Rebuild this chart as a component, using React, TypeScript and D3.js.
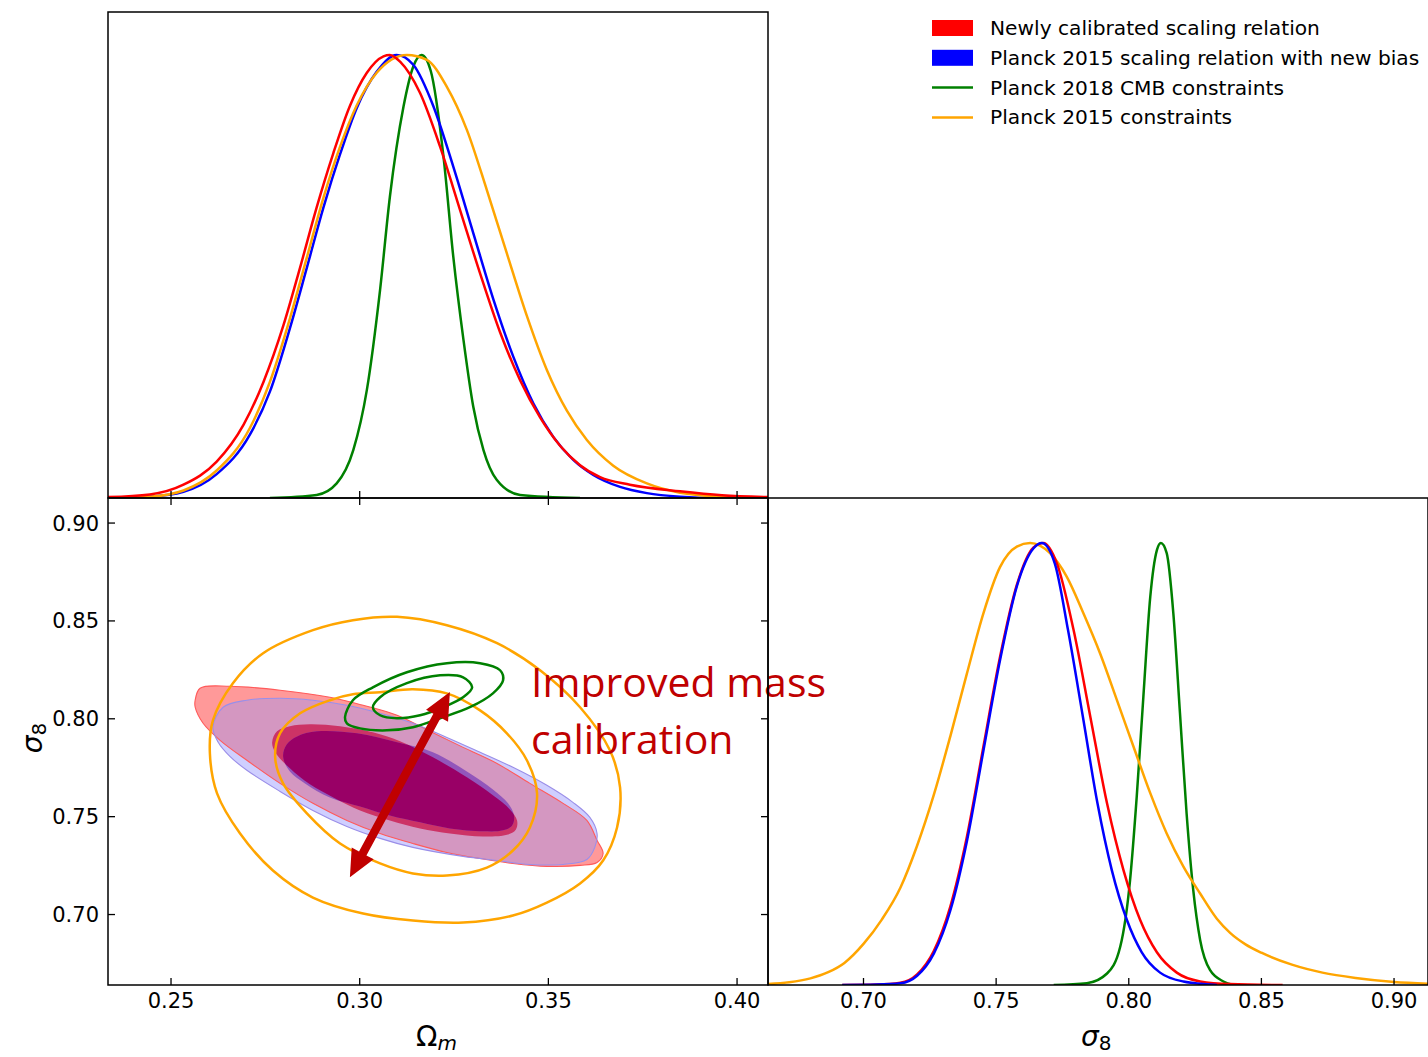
import React from 'react';
import * as d3 from 'd3';

// ── Layout (px) ──────────────────────────────────────────────────────────────
const W = 1428, H = 1057;
const X0 = 108, X1 = 768, X2 = 1428;   // panel columns
const Y0 = 12, Y1 = 498, Y2 = 985;     // panel rows
const TICK = 7;

// ── Axes ─────────────────────────────────────────────────────────────────────
const OMEGA_DOMAIN: [number, number] = [0.2333, 0.4082];
const SIGMA_DOMAIN: [number, number] = [0.664, 0.9128];
const OMEGA_TICKS = [0.25, 0.30, 0.35, 0.40];
const SIGMA_TICKS = [0.70, 0.75, 0.80, 0.85, 0.90];

type P = [number, number];

const COLORS = { red: '#ff0000', blue: '#0000ff', green: '#008000', orange: '#ffa500' };

// ── 1D marginals: Ω_m  [value, normalised density] ──────────────────────────
const omRed: P[] = [
  [0.2333, 0.002], [0.2444, 0.008], [0.2533, 0.030], [0.2621, 0.082], [0.2692, 0.165],
  [0.2745, 0.262], [0.2798, 0.390], [0.2842, 0.520], [0.2886, 0.656], [0.2930, 0.778],
  [0.2974, 0.885], [0.3019, 0.960], [0.3063, 0.997], [0.3080, 1.0], [0.3107, 0.985],
  [0.3160, 0.914], [0.3213, 0.793], [0.3266, 0.650], [0.3319, 0.507], [0.3372, 0.374],
  [0.3425, 0.266], [0.3478, 0.182], [0.3531, 0.118], [0.3584, 0.074], [0.3637, 0.047],
  [0.3716, 0.030], [0.3849, 0.015], [0.3960, 0.006], [0.4082, 0.002],
];
const omBlue: P[] = [
  [0.2333, 0.0], [0.2444, 0.003], [0.2533, 0.014], [0.2621, 0.054], [0.2709, 0.143],
  [0.2762, 0.240], [0.2815, 0.383], [0.2860, 0.520], [0.2904, 0.656], [0.2948, 0.776],
  [0.2992, 0.880], [0.3045, 0.962], [0.3098, 1.0], [0.3142, 0.978], [0.3195, 0.885],
  [0.3248, 0.748], [0.3301, 0.598], [0.3354, 0.449], [0.3407, 0.319], [0.3460, 0.214],
  [0.3513, 0.138], [0.3566, 0.086], [0.3619, 0.052], [0.3690, 0.025], [0.3761, 0.011],
  [0.3849, 0.003], [0.3950, 0.0], [0.4082, 0.0],
];
const omGreen: P[] = [
  [0.2762, 0.0], [0.2886, 0.007], [0.2939, 0.033], [0.2983, 0.108], [0.3019, 0.244],
  [0.3054, 0.470], [0.3080, 0.680], [0.3116, 0.883], [0.3142, 0.974], [0.3164, 1.0],
  [0.3188, 0.965], [0.3222, 0.771], [0.3248, 0.545], [0.3275, 0.357], [0.3301, 0.206],
  [0.3328, 0.108], [0.3363, 0.041], [0.3425, 0.007], [0.3584, 0.0],
];
const omOrange: P[] = [
  [0.2333, 0.0], [0.2444, 0.003], [0.2533, 0.017], [0.2621, 0.062], [0.2709, 0.158],
  [0.2762, 0.262], [0.2815, 0.405], [0.2860, 0.543], [0.2904, 0.678], [0.2948, 0.793],
  [0.2992, 0.886], [0.3045, 0.960], [0.3125, 1.0], [0.3178, 0.989], [0.3231, 0.928],
  [0.3284, 0.831], [0.3337, 0.695], [0.3390, 0.552], [0.3443, 0.411], [0.3496, 0.289],
  [0.3549, 0.197], [0.3602, 0.131], [0.3672, 0.073], [0.3761, 0.033], [0.3849, 0.012],
  [0.3960, 0.003], [0.4082, 0.0],
];

// ── 1D marginals: σ8 ─────────────────────────────────────────────────────────
const s8Red: P[] = [
  [0.692, 0.0], [0.705, 0.001], [0.7139, 0.005], [0.7202, 0.024], [0.7265, 0.077],
  [0.7327, 0.177], [0.7390, 0.336], [0.7452, 0.539], [0.7515, 0.743], [0.7578, 0.905],
  [0.7641, 0.990], [0.7678, 1.0], [0.7729, 0.954], [0.7792, 0.803], [0.7855, 0.607],
  [0.7918, 0.411], [0.7980, 0.260], [0.8043, 0.147], [0.8106, 0.074], [0.8181, 0.028],
  [0.8269, 0.008], [0.8382, 0.002], [0.858, 0.0],
];
const s8Blue: P[] = [
  [0.692, 0.0], [0.705, 0.001], [0.7139, 0.004], [0.7202, 0.021], [0.7265, 0.071],
  [0.7327, 0.168], [0.7390, 0.326], [0.7452, 0.530], [0.7515, 0.736], [0.7578, 0.902],
  [0.7641, 0.988], [0.7672, 1.0], [0.7721, 0.954], [0.7771, 0.803], [0.7827, 0.607],
  [0.7882, 0.411], [0.7936, 0.260], [0.7993, 0.147], [0.8049, 0.074], [0.8118, 0.028],
  [0.8206, 0.008], [0.8332, 0.0],
];
const s8Green: P[] = [
  [0.7717, 0.0], [0.7842, 0.004], [0.7918, 0.026], [0.7968, 0.087], [0.8005, 0.238],
  [0.8030, 0.426], [0.8055, 0.652], [0.8081, 0.878], [0.8106, 0.984], [0.8121, 1.0],
  [0.8143, 0.977], [0.8168, 0.841], [0.8193, 0.615], [0.8218, 0.388], [0.8243, 0.215],
  [0.8269, 0.102], [0.8306, 0.034], [0.8357, 0.008], [0.8394, 0.0],
];
const s8Orange: P[] = [
  [0.664, 0.002], [0.672, 0.006], [0.680, 0.015], [0.6867, 0.029], [0.6928, 0.050],
  [0.7000, 0.093], [0.7069, 0.148], [0.7139, 0.220], [0.7202, 0.315], [0.7265, 0.430],
  [0.7327, 0.562], [0.7390, 0.705], [0.7452, 0.841], [0.7515, 0.946], [0.7578, 0.992],
  [0.7628, 1.0], [0.7703, 0.977], [0.7766, 0.924], [0.7829, 0.841], [0.7892, 0.750],
  [0.7955, 0.645], [0.8018, 0.539], [0.8081, 0.434], [0.8143, 0.343], [0.8206, 0.268],
  [0.8269, 0.207], [0.8332, 0.150], [0.8382, 0.118], [0.8440, 0.092], [0.8500, 0.073],
  [0.8615, 0.046], [0.8730, 0.028], [0.8855, 0.016], [0.9000, 0.007], [0.9128, 0.003],
];

// ── 2D contours [Ω_m, σ8] ────────────────────────────────────────────────────
const redOuter: P[] = [
  [0.2564, 0.8095], [0.2577, 0.8156], [0.2656, 0.8166], [0.2789, 0.8146], [0.2921, 0.8110],
  [0.3009, 0.8069], [0.3099, 0.8018], [0.3186, 0.7936], [0.3274, 0.7854], [0.3364, 0.7772],
  [0.3451, 0.7670], [0.3539, 0.7568], [0.3602, 0.7481], [0.3629, 0.7379], [0.3645, 0.7312],
  [0.3629, 0.7266], [0.3584, 0.7251], [0.3496, 0.7246], [0.3406, 0.7261], [0.3319, 0.7286],
  [0.3231, 0.7317], [0.3141, 0.7363], [0.3054, 0.7414], [0.2966, 0.7481], [0.2876, 0.7568],
  [0.2789, 0.7670], [0.2701, 0.7788], [0.2630, 0.7890], [0.2585, 0.7977], [0.2564, 0.8059],
];
const blueOuter: P[] = [
  [0.2611, 0.7957], [0.2638, 0.8059], [0.2701, 0.8095], [0.2789, 0.8105], [0.2876, 0.8095],
  [0.2966, 0.8069], [0.3054, 0.8028], [0.3141, 0.7977], [0.3231, 0.7905], [0.3319, 0.7829],
  [0.3406, 0.7752], [0.3496, 0.7660], [0.3565, 0.7573], [0.3610, 0.7496], [0.3629, 0.7414],
  [0.3623, 0.7343], [0.3602, 0.7281], [0.3539, 0.7256], [0.3451, 0.7256], [0.3364, 0.7276],
  [0.3274, 0.7297], [0.3141, 0.7343], [0.3054, 0.7389], [0.2966, 0.7450], [0.2876, 0.7532],
  [0.2789, 0.7629], [0.2701, 0.7737], [0.2656, 0.7808], [0.2625, 0.7880],
];
const redInner: P[] = [
  [0.2768, 0.7880], [0.2781, 0.7936], [0.2815, 0.7962], [0.2868, 0.7972], [0.2948, 0.7962],
  [0.3035, 0.7931], [0.3107, 0.7885], [0.3194, 0.7803], [0.3284, 0.7701], [0.3353, 0.7609],
  [0.3398, 0.7537], [0.3417, 0.7481], [0.3414, 0.7435], [0.3393, 0.7409], [0.3327, 0.7399],
  [0.3239, 0.7414], [0.3160, 0.7440], [0.3080, 0.7481], [0.3001, 0.7532], [0.2935, 0.7593],
  [0.2868, 0.7665], [0.2815, 0.7747], [0.2776, 0.7829],
];
const blueInner: P[] = [
  [0.2797, 0.7808], [0.2807, 0.7870], [0.2834, 0.7910], [0.2887, 0.7936], [0.2993, 0.7926],
  [0.3099, 0.7880], [0.3194, 0.7829], [0.3284, 0.7731], [0.3353, 0.7639], [0.3393, 0.7568],
  [0.3409, 0.7506], [0.3404, 0.7455], [0.3380, 0.7430], [0.3327, 0.7425], [0.3239, 0.7440],
  [0.3160, 0.7471], [0.3080, 0.7506], [0.3001, 0.7552], [0.2921, 0.7598], [0.2855, 0.7670],
  [0.2815, 0.7731],
];
const orangeOuter: P[] = [
  [0.3099, 0.8521], [0.3231, 0.8478], [0.3364, 0.8386], [0.3478, 0.8248], [0.3584, 0.8059],
  [0.3663, 0.7839], [0.3690, 0.7650], [0.3682, 0.7445], [0.3645, 0.7276], [0.3584, 0.7159],
  [0.3496, 0.7061], [0.3406, 0.6995], [0.3274, 0.6959], [0.3141, 0.6969], [0.3009, 0.7005],
  [0.2876, 0.7087], [0.2770, 0.7225], [0.2683, 0.7414], [0.2622, 0.7619], [0.2603, 0.7824],
  [0.2611, 0.7992], [0.2664, 0.8182], [0.2744, 0.8335], [0.2876, 0.8453], [0.2982, 0.8504],
];
const orangeInner: P[] = [
  [0.3054, 0.8136], [0.3141, 0.8151], [0.3231, 0.8130], [0.3319, 0.8043], [0.3390, 0.7926],
  [0.3443, 0.7788], [0.3470, 0.7619], [0.3451, 0.7445], [0.3406, 0.7327], [0.3337, 0.7240],
  [0.3231, 0.7199], [0.3141, 0.7210], [0.3054, 0.7261], [0.2948, 0.7363], [0.2860, 0.7517],
  [0.2797, 0.7670], [0.2776, 0.7803], [0.2789, 0.7926], [0.2842, 0.8028], [0.2921, 0.8095],
  [0.2982, 0.8125],
];
const greenOuter: P[] = [
  [0.2961, 0.8008], [0.2982, 0.8095], [0.3035, 0.8161], [0.3125, 0.8238], [0.3231, 0.8284],
  [0.3319, 0.8284], [0.3372, 0.8248], [0.3380, 0.8197], [0.3353, 0.8130], [0.3292, 0.8059],
  [0.3213, 0.8003], [0.3141, 0.7957], [0.3072, 0.7941], [0.3001, 0.7951], [0.2966, 0.7977],
];
const greenInner: P[] = [
  [0.3035, 0.8059], [0.3054, 0.8110], [0.3125, 0.8182], [0.3213, 0.8222], [0.3274, 0.8212],
  [0.3298, 0.8161], [0.3274, 0.8110], [0.3221, 0.8059], [0.3160, 0.8018], [0.3099, 0.8003],
  [0.3054, 0.8018],
];

// annotation arrow ends [Ω_m, σ8]
const ARROW_FROM: P = [0.2974, 0.7191];
const ARROW_TO: P = [0.3239, 0.8137];
const NOTE_LINES = ['Improved mass', 'calibration'];

const LEGEND = [
  { label: 'Newly calibrated scaling relation', color: COLORS.red, kind: 'patch' },
  { label: 'Planck 2015 scaling relation with new bias', color: COLORS.blue, kind: 'patch' },
  { label: 'Planck 2018 CMB constraints', color: COLORS.green, kind: 'line' },
  { label: 'Planck 2015 constraints', color: COLORS.orange, kind: 'line' },
];

const FONT = 'DejaVu Sans, sans-serif';
const fmt = d3.format('.2f');

export default function App() {
  const xOm = d3.scaleLinear().domain(OMEGA_DOMAIN).range([X0, X1]);
  const yS8 = d3.scaleLinear().domain(SIGMA_DOMAIN).range([Y2, Y1]);
  const xS8 = d3.scaleLinear().domain(SIGMA_DOMAIN).range([X1, X2]);
  const yTop = d3.scaleLinear().domain([0, 1.097]).range([Y1, Y0]);
  const yBR = d3.scaleLinear().domain([0, 1.1018]).range([Y2, Y1]);

  const lineTop = d3.line<P>().x(d => xOm(d[0])).y(d => yTop(d[1])).curve(d3.curveMonotoneX);
  const lineBR = d3.line<P>().x(d => xS8(d[0])).y(d => yBR(d[1])).curve(d3.curveMonotoneX);
  const contour = d3.line<P>().x(d => xOm(d[0])).y(d => yS8(d[1])).curve(d3.curveCatmullRomClosed.alpha(0.5));

  // double-headed arrow polygon in px
  const ax = xOm(ARROW_FROM[0]), ay = yS8(ARROW_FROM[1]);
  const bx = xOm(ARROW_TO[0]), by = yS8(ARROW_TO[1]);
  const len = Math.hypot(bx - ax, by - ay);
  const ux = (bx - ax) / len, uy = (by - ay) / len;
  const nx = -uy, ny = ux;
  const hl = 27, hw = 12.5, sw = 4.2;
  const pt = (x: number, y: number, s: number, t: number) => `${x + ux * s + nx * t},${y + uy * s + ny * t}`;
  const arrowPts = [
    pt(ax, ay, 0, 0), pt(ax, ay, hl, hw), pt(ax, ay, hl, sw),
    pt(bx, by, -hl, sw), pt(bx, by, -hl, hw), pt(bx, by, 0, 0),
    pt(bx, by, -hl, -hw), pt(bx, by, -hl, -sw), pt(ax, ay, hl, -sw), pt(ax, ay, hl, -hw),
  ].join(' ');

  const curveProps = { fill: 'none', strokeWidth: 2.5, strokeLinejoin: 'round' as const };

  return (
    <svg width={W} height={H} style={{ position: 'absolute', left: 0, top: 0, background: '#fff' }}
      fontFamily={FONT}>
      <defs>
        <clipPath id="clipTop"><rect x={X0} y={Y0} width={X1 - X0} height={Y1 - Y0} /></clipPath>
        <clipPath id="clipBR"><rect x={X1} y={Y1} width={X2 - X1} height={Y2 - Y1} /></clipPath>
        <clipPath id="clip2D"><rect x={X0} y={Y1} width={X1 - X0} height={Y2 - Y1} /></clipPath>
        <clipPath id="clipRedOuter"><path d={contour(redOuter) ?? ''} /></clipPath>
        <clipPath id="clipRedInner"><path d={contour(redInner) ?? ''} /></clipPath>
      </defs>

      {/* ── top: Ω_m marginal ── */}
      <g clipPath="url(#clipTop)">
        <path d={lineTop(omGreen) ?? ''} stroke={COLORS.green} {...curveProps} />
        <path d={lineTop(omBlue) ?? ''} stroke={COLORS.blue} {...curveProps} />
        <path d={lineTop(omOrange) ?? ''} stroke={COLORS.orange} {...curveProps} />
        <path d={lineTop(omRed) ?? ''} stroke={COLORS.red} {...curveProps} />
      </g>

      {/* ── bottom-right: σ8 marginal ── */}
      <g clipPath="url(#clipBR)">
        <path d={lineBR(s8Green) ?? ''} stroke={COLORS.green} {...curveProps} />
        <path d={lineBR(s8Orange) ?? ''} stroke={COLORS.orange} {...curveProps} />
        <path d={lineBR(s8Red) ?? ''} stroke={COLORS.red} {...curveProps} />
        <path d={lineBR(s8Blue) ?? ''} stroke={COLORS.blue} {...curveProps} />
      </g>

      {/* ── 2D: filled contours ── */}
      <g clipPath="url(#clip2D)">
        <path d={contour(redOuter) ?? ''} fill="#ff9999" />
        <path d={contour(blueOuter) ?? ''} fill="#cfcfff" />
        <path d={contour(blueOuter) ?? ''} fill="#d497c1" clipPath="url(#clipRedOuter)" />
        <path d={contour(redOuter) ?? ''} fill="none" stroke="#ff5a5a" strokeWidth={1.1} />
        <path d={contour(blueOuter) ?? ''} fill="none" stroke="#9a8ee8" strokeWidth={1.1} />
        <path d={contour(redInner) ?? ''} fill="#cc3366" />
        <path d={contour(blueInner) ?? ''} fill="#9256bb" />
        <path d={contour(blueInner) ?? ''} fill="#990066" clipPath="url(#clipRedInner)" />

        <path d={contour(orangeOuter) ?? ''} stroke={COLORS.orange} {...curveProps} />
        <path d={contour(orangeInner) ?? ''} stroke={COLORS.orange} {...curveProps} />
        <path d={contour(greenOuter) ?? ''} stroke={COLORS.green} {...curveProps} />
        <path d={contour(greenInner) ?? ''} stroke={COLORS.green} {...curveProps} />

        <polygon points={arrowPts} fill="#c00000" />
      </g>

      {/* annotation */}
      <text x={531} y={697} fill="#c00000" fontFamily="Open Sans, sans-serif" fontSize={41}>
        {NOTE_LINES[0]}
      </text>
      <text x={531} y={754} fill="#c00000" fontFamily="Open Sans, sans-serif" fontSize={41}>
        {NOTE_LINES[1]}
      </text>

      {/* ── frames ── */}
      <g fill="none" stroke="#000" strokeWidth={1.5}>
        <rect x={X0} y={Y0} width={X1 - X0} height={Y1 - Y0} />
        <rect x={X0} y={Y1} width={X1 - X0} height={Y2 - Y1} />
        <rect x={X1} y={Y1} width={X2 - X1} height={Y2 - Y1} />
      </g>

      {/* ── ticks ── */}
      <g stroke="#000" strokeWidth={1.3}>
        {OMEGA_TICKS.map(v => (
          <g key={`om${v}`}>
            <line x1={xOm(v)} x2={xOm(v)} y1={Y1 - TICK} y2={Y1 + TICK} />
            <line x1={xOm(v)} x2={xOm(v)} y1={Y2} y2={Y2 - TICK} />
          </g>
        ))}
        {SIGMA_TICKS.map(v => (
          <g key={`s8${v}`}>
            <line x1={X0} x2={X0 + TICK} y1={yS8(v)} y2={yS8(v)} />
            <line x1={X1} x2={X1 - TICK} y1={yS8(v)} y2={yS8(v)} />
            <line x1={xS8(v)} x2={xS8(v)} y1={Y2} y2={Y2 - TICK} />
          </g>
        ))}
      </g>

      {/* ── tick labels ── */}
      <g fontSize={21} fill="#000">
        {OMEGA_TICKS.map(v => (
          <text key={`tom${v}`} x={xOm(v)} y={Y2 + 23} textAnchor="middle">{fmt(v)}</text>
        ))}
        {SIGMA_TICKS.map(v => (
          <text key={`ts8${v}`} x={xS8(v)} y={Y2 + 23} textAnchor="middle">{fmt(v)}</text>
        ))}
        {SIGMA_TICKS.map(v => (
          <text key={`tl${v}`} x={X0 - 9} y={yS8(v) + 7.5} textAnchor="end">{fmt(v)}</text>
        ))}
      </g>

      {/* ── axis labels ── */}
      <text x={416} y={1046} fontSize={28}>
        Ω<tspan fontStyle="italic" fontSize={20} dy={4}>m</tspan>
      </text>
      <text x={1081} y={1046} fontSize={28}>
        <tspan fontStyle="italic">σ</tspan><tspan fontSize={20} dy={4}>8</tspan>
      </text>
      <text transform="translate(42,738) rotate(-90)" fontSize={28} textAnchor="middle">
        <tspan fontStyle="italic">σ</tspan><tspan fontSize={20} dy={4}>8</tspan>
      </text>

      {/* ── legend ── */}
      <g fontSize={20.2}>
        {LEGEND.map((d, i) => {
          const cy = 28 + i * 29.8;
          return (
            <g key={d.label}>
              {d.kind === 'patch'
                ? <rect x={932} y={cy - 8} width={41} height={16} fill={d.color} />
                : <line x1={932} x2={973} y1={cy} y2={cy} stroke={d.color} strokeWidth={2.5} />}
              <text x={990} y={cy + 7} fill="#000">{d.label}</text>
            </g>
          );
        })}
      </g>
    </svg>
  );
}
